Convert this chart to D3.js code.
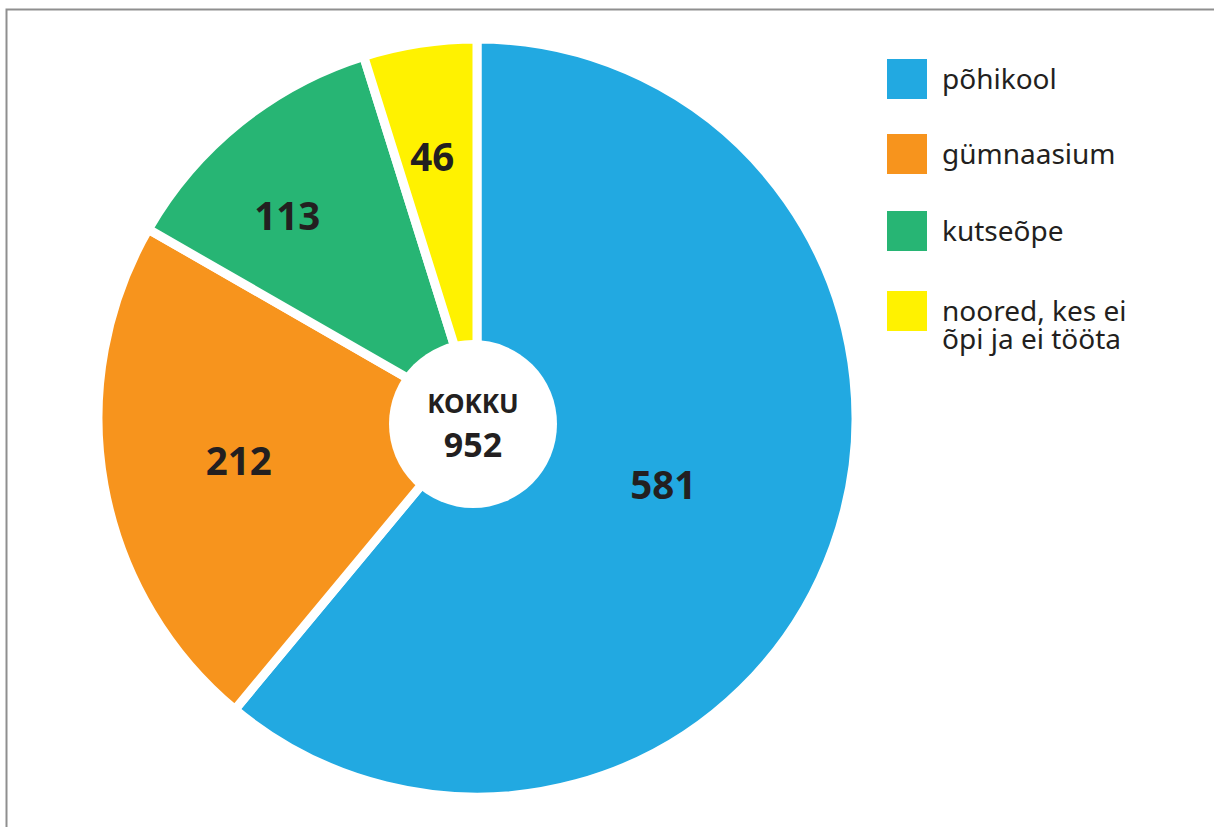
<!DOCTYPE html>
<html>
<head>
<meta charset="utf-8">
<script src="https://cdn.jsdelivr.net/npm/d3@7"></script>
<style>
  html, body { margin: 0; padding: 0; background: #fff; }
  svg { display: block; }
  text { font-family: "Noto Sans", "Open Sans", sans-serif; fill: #231f20; }
</style>
</head>
<body>
<div id="chart"></div>
<script>
// data
const categories = ['põhikool', 'gümnaasium', 'kutseõpe', 'noored, kes ei õpi ja ei tööta'];
const values = [581, 212, 113, 46];
const legendLines = [['põhikool'], ['gümnaasium'], ['kutseõpe'], ['noored, kes ei', 'õpi ja ei tööta']];
const colors = ['#22a9e1', '#f7941d', '#27b574', '#fff200'];
const totalLabel = 'KOKKU';

const width = 1214, height = 827;
const cx = 477, cy = 418, radius = 379;
// where each value label sits: distance from centre + small angle nudge (deg), by eye
const labelRadius = [198, 242, 277, 265];
const labelNudge = [0, 0, -4.5, -1];

const svg = d3.select('#chart')
  .append('svg')
  .attr('width', width)
  .attr('height', height);

// thin grey frame, top and left only
svg.append('path')
  .attr('d', 'M6.5,827 V9.5 H1214')
  .attr('fill', 'none')
  .attr('stroke', '#8f8f8f')
  .attr('stroke-width', 2);

const pie = d3.pie().sort(null).value(d => d);
const arcs = pie(values);

const arc = d3.arc().innerRadius(0).outerRadius(radius);

const g = svg.append('g')
  .attr('transform', 'translate(' + cx + ',' + cy + ')');

g.selectAll('.slice')
  .data(arcs)
  .enter().append('path')
  .attr('class', 'slice')
  .attr('d', arc)
  .attr('fill', (d, i) => colors[i])
  .attr('stroke', '#fff')
  .attr('stroke-width', 9)
  .attr('stroke-linejoin', 'miter');

// white hole in the middle
g.append('circle')
  .attr('cx', -4)
  .attr('cy', 6)
  .attr('r', 84)
  .attr('fill', '#fff');

g.selectAll('.val')
  .data(arcs)
  .enter().append('text')
  .attr('class', 'val')
  .attr('transform', (d, i) => {
    const a = (d.startAngle + d.endAngle) / 2 + labelNudge[i] * Math.PI / 180;
    const x = Math.sin(a) * labelRadius[i];
    const y = -Math.cos(a) * labelRadius[i];
    return 'translate(' + x + ',' + y + ')';
  })
  .attr('text-anchor', 'middle')
  .attr('dy', '0.36em')
  .style('font-size', '38.5px')
  .style('font-weight', 'bold')
  .text(d => d.data);

const total = d3.sum(values);
g.append('text')
  .attr('x', -4).attr('y', -5)
  .attr('text-anchor', 'middle')
  .style('font-size', '26px')
  .style('font-weight', 'bold')
  .text(totalLabel);
g.append('text')
  .attr('x', -4).attr('y', 39)
  .attr('text-anchor', 'middle')
  .style('font-size', '34px')
  .style('font-weight', 'bold')
  .text(total);

// legend
const legend = svg.append('g')
  .attr('transform', 'translate(887,59)');

const item = legend.selectAll('.item')
  .data(categories)
  .enter().append('g')
  .attr('class', 'item')
  .attr('transform', (d, i) => 'translate(0,' + [0, 75, 152, 232][i] + ')');

item.append('rect')
  .attr('width', 40)
  .attr('height', 40)
  .attr('fill', (d, i) => colors[i]);

item.append('text')
  .attr('x', 55)
  .attr('y', 30)
  .style('font-size', '28px')
  .selectAll('tspan')
  .data((d, i) => legendLines[i])
  .enter().append('tspan')
  .attr('x', 55)
  .attr('dy', (d, j) => j === 0 ? 0 : 28)
  .text(d => d);
</script>
</body>
</html>
